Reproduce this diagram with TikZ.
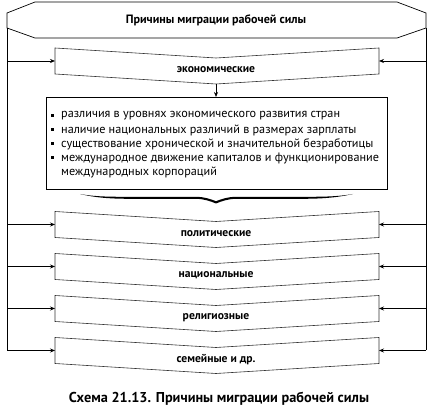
\documentclass[tikz,border=0pt]{standalone}
\usepackage{fontspec}
\setmainfont{PT Sans}
\usetikzlibrary{arrows.meta}
\tikzset{
  chev/.style={draw=black!80, line width=0.6pt, line join=miter},
  lbl/.style={font=\bfseries\fontsize{11.6}{13}\selectfont, inner sep=0pt},
  arr/.style={line width=0.7pt, -{Stealth[length=5pt,width=4pt]}},
  frame/.style={draw, line width=0.7pt},
  itm/.style={anchor=west, inner sep=0pt, font=\fontsize{12.2}{14}\selectfont},
  bul/.style={fill=black, minimum size=3pt, inner sep=0pt}
}
\newcommand{\chevbox}[3]{%
  \draw[chev] (55,#2) -- (216,#2+10) -- (379,#2) -- (379,#2+26) -- (216,#2+36) -- (55,#2+26) -- cycle;
  \node[lbl] (#1) at (216,#2+22) {#3};
  \coordinate (#1L) at (55,#2+13);
  \coordinate (#1R) at (379,#2+13);
  \coordinate (#1T) at (216,#2+10);
  \coordinate (#1B) at (216,#2+36);
}
\begin{document}
\begin{tikzpicture}[x=1pt,y=-1pt]
\useasboundingbox (0,0) rectangle (432,411);
% title octagon
\draw[frame] (7,13) -- (35,2) -- (397,2) -- (426,13) -- (426,28) -- (397,38) -- (35,38) -- (7,28) -- cycle;
\node[font=\bfseries\fontsize{12.1}{14}\selectfont, inner sep=0pt] (title) at (216,20) {Причины миграции рабочей силы};
\coordinate (tl) at (7,28);
\coordinate (tr) at (426,28);
% chevron boxes
\chevbox{eco}{48}{экономические}
\chevbox{pol}{211.5}{политические}
\chevbox{nat}{253.5}{национальные}
\chevbox{rel}{295.5}{религиозные}
\chevbox{fam}{337.5}{семейные и др.}
% side lines
\draw[frame] (tl) -- (tl |- famL);
\draw[frame] (tr) -- (tr |- famR);
\foreach \n in {eco,pol,nat,rel,fam}{
  \draw[arr] (tl |- \n L) -- (\n L);
  \draw[arr] (tr |- \n R) -- (\n R);
}
% economic box
\node[frame, minimum width=341pt, minimum height=92pt, anchor=north west, inner sep=0pt] (ebox) at (46,97) {};
\draw[arr] (ecoB) -- (ebox.north -| ecoB);
\foreach \y/\t in {116/{различия в уровнях экономического развития стран},
                   130/{наличие национальных различий в размерах зарплаты},
                   144/{существование хронической и значительной безработицы},
                   158/{международное движение капиталов и функционирование}}{
  \node[bul] at (52,\y) {};
  \node[itm] at (61,\y) {\t};
}
\node[itm] (last) at (61,172) {международных корпораций};
% brace
\fill (80,194) .. controls (95,196.8) and (110,196.8) .. (130,196.8) -- (196,196.8)
  .. controls (205,197) and (210,199) .. (216,201.2)
  .. controls (222,199) and (227,197) .. (236,196.8) -- (302,196.8)
  .. controls (322,196.8) and (337,196.8) .. (353,194)
  .. controls (337,197.6) and (322,198.8) .. (302,198.8) -- (236,198.8)
  .. controls (228,199) and (222,201) .. (216,203.5)
  .. controls (210,201) and (204,199) .. (196,198.8) -- (130,198.8)
  .. controls (110,198.8) and (95,197.6) .. (80,194) -- cycle;
% caption
\node[font=\bfseries\fontsize{14.3}{16}\selectfont, inner sep=0pt] (cap) at (219,399) {Схема 21.13. Причины миграции рабочей силы};
\end{tikzpicture}
\end{document}
